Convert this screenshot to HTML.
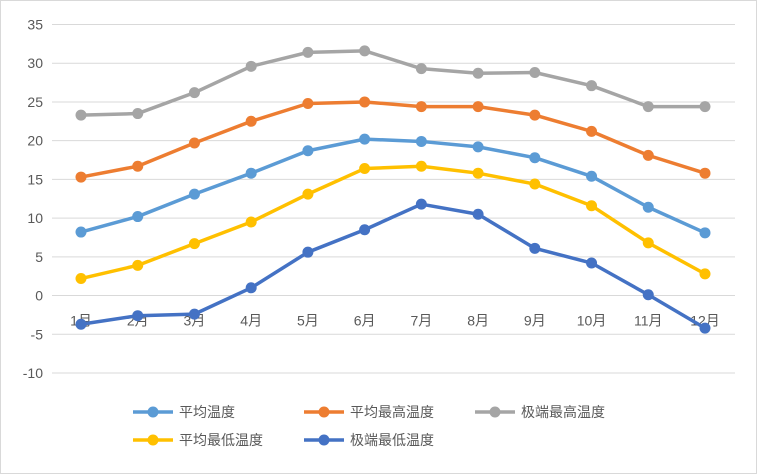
<!DOCTYPE html>
<html><head><meta charset="utf-8">
<style>
body{margin:0;background:#fff;}
svg{display:block;font-family:"Liberation Sans","Noto Sans CJK SC",sans-serif;}
</style></head>
<body>
<svg id="chart" width="757" height="474" viewBox="0 0 757 474">
<rect x="0.5" y="0.5" width="756" height="473" fill="#fff" stroke="#d9d9d9"/>
<g id="grid"></g><g id="yticks"></g><g id="xticks"></g><g id="series"></g><g id="legend"></g>
</svg>
<script>
const categories=["1月","2月","3月","4月","5月","6月","7月","8月","9月","10月","11月","12月"];
const yTicks=[35,30,25,20,15,10,5,0,-5,-10];
const seriesNames=["平均温度","平均最高温度","极端最高温度","平均最低温度","极端最低温度"];
const seriesColors=["#5B9BD5","#ED7D31","#A5A5A5","#FFC000","#4472C4"];
const avgTemp=[8.2,10.2,13.1,15.8,18.7,20.2,19.9,19.2,17.8,15.4,11.4,8.1];
const avgHigh=[15.3,16.7,19.7,22.5,24.8,25.0,24.4,24.4,23.3,21.2,18.1,15.8];
const extHigh=[23.3,23.5,26.2,29.6,31.4,31.6,29.3,28.7,28.8,27.1,24.4,24.4];
const avgLow=[2.2,3.9,6.7,9.5,13.1,16.4,16.7,15.8,14.4,11.6,6.8,2.8];
const extLow=[-3.7,-2.6,-2.4,1.0,5.6,8.5,11.8,10.5,6.1,4.2,0.1,-4.2];
const allSeries=[avgTemp,avgHigh,extHigh,avgLow,extLow];
const NS="http://www.w3.org/2000/svg";
const yMin=-10,yMax=35,pxTop=24.5,pxBot=373;
function y(v){return pxBot-(v-yMin)/(yMax-yMin)*(pxBot-pxTop);}
const x0=81,x1=705;
function x(i){return x0+i*(x1-x0)/(categories.length-1);}
function mk(tag,attrs,parent){const e=document.createElementNS(NS,tag);for(const k in attrs)e.setAttribute(k,attrs[k]);parent.appendChild(e);return e;}
const g=document.getElementById("grid"),yt=document.getElementById("yticks"),xt=document.getElementById("xticks"),sg=document.getElementById("series"),lg=document.getElementById("legend");
yTicks.forEach(t=>{
 const l=mk("line",{x1:52,x2:735,y1:y(t),y2:y(t),stroke:"#d9d9d9","stroke-width":1},g);
 
 
 const tx=mk("text",{x:43,y:y(t)+5,"text-anchor":"end","font-size":14,fill:"#595959"},yt);
 tx.textContent=t;
 
 
});
categories.forEach((c,i)=>{
 const tx=mk("text",{x:x(i),y:y(0)+30,"text-anchor":"middle","font-size":14,fill:"#595959"},xt);
 tx.textContent=c;
 
 
});
allSeries.forEach((s,k)=>{
 const gg=mk("g",{},sg);
 
 
 const p=mk("polyline",{points:s.map((v,i)=>x(i)+","+y(v)).join(" "),fill:"none",stroke:seriesColors[k],"stroke-width":3.5,"stroke-linejoin":"round"},gg);
 
 
 s.forEach((v,i)=>{
  const c=mk("circle",{cx:x(i),cy:y(v),r:5.5,fill:seriesColors[k]},gg);
  
  
 });
});
const legPos=[[133,412],[304,412],[475,412],[133,440],[304,440]];
seriesNames.forEach((n,k)=>{
 const gg=mk("g",{},lg);
 
 
 const [lx,ly]=legPos[k];
 mk("line",{x1:lx,x2:lx+40,y1:ly,y2:ly,stroke:seriesColors[k],"stroke-width":3.5},gg);
 mk("circle",{cx:lx+20,cy:ly,r:5.5,fill:seriesColors[k]},gg);
 const t=mk("text",{x:lx+46,y:ly+5,"font-size":14,fill:"#595959"},gg);
 t.textContent=n;
});
</script>
</body></html>
